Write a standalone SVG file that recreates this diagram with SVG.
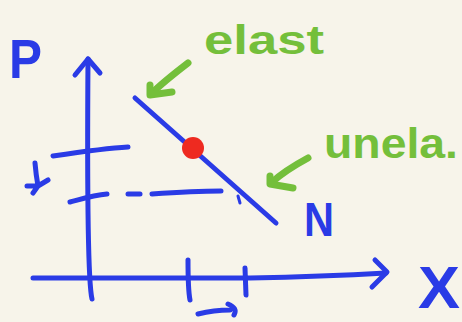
<svg xmlns="http://www.w3.org/2000/svg" width="462" height="322" viewBox="0 0 462 322">
<style>
.b{fill:none;stroke:#2a3be6;stroke-width:5;stroke-linecap:round;stroke-linejoin:round}
.g{fill:none;stroke:#74bf3b;stroke-width:7;stroke-linecap:round;stroke-linejoin:round}
.tb{fill:#2a3be6;font-family:"Liberation Sans",Arial,sans-serif;font-weight:bold}
.tg{fill:#74bf3b;font-family:"Liberation Sans",Arial,sans-serif;font-weight:bold}
</style>
<rect width="462" height="322" fill="#f7f4ea"/>
<g id="axes">
<path class="b" d="M92,299 C88,282 87,200 88,59"/>
<path class="b" d="M75,75 L88,59 L100,73"/>
<path class="b" d="M33,278 L250,278 C300,277 350,275 386,273"/>
<path class="b" d="M375,260 L387,272 L372,287"/>
<text class="tb" x="9" y="78" font-size="56" textLength="33" lengthAdjust="spacingAndGlyphs">P</text>
<text class="tb" x="418" y="308" font-size="60" textLength="42" lengthAdjust="spacingAndGlyphs">X</text>
</g>
<g id="ticks">
<path class="b" d="M53,156 C80,152 110,148 128,147"/>
<path class="b" d="M70,202 C85,198 95,195 107,194"/>
<path class="b" d="M128,194 L140,194"/>
<path class="b" d="M152,194 C180,192 200,191 221,191"/>
<path class="b" d="M188,260 C188,275 188,290 190,300"/>
<path class="b" d="M245,268 L246,295"/>
<path class="b" d="M35,163 Q36,175 38,186 M27,186 L38,186 L48,180 M38,186 L33,193"/>
<path class="b" d="M198,314 Q214,310 230,310 M228,304 Q238,308 234,315"/>
</g>
<g id="demand">
<path class="b" d="M135,98 L276,223"/>
<path class="b" style="stroke-width:3" d="M238,196 L240,203"/>
<circle cx="193" cy="148" r="11" fill="#ee2a20"/>
<text class="tb" x="304" y="236" font-size="48" textLength="30" lengthAdjust="spacingAndGlyphs">N</text>
</g>
<g id="labels">
<path class="g" d="M188,63 C175,73 162,83 151,94"/>
<path class="g" d="M150,85 L150,95 L172,92"/>
<text class="tg" x="204" y="54" font-size="40" textLength="120" lengthAdjust="spacingAndGlyphs">elast</text>
<path class="g" d="M308,158 C295,165 282,173 271,183"/>
<path class="g" d="M270,176 L270,184 L293,188"/>
<text class="tg" x="324" y="158" font-size="42" textLength="134" lengthAdjust="spacingAndGlyphs">unela.</text>
</g>
</svg>
